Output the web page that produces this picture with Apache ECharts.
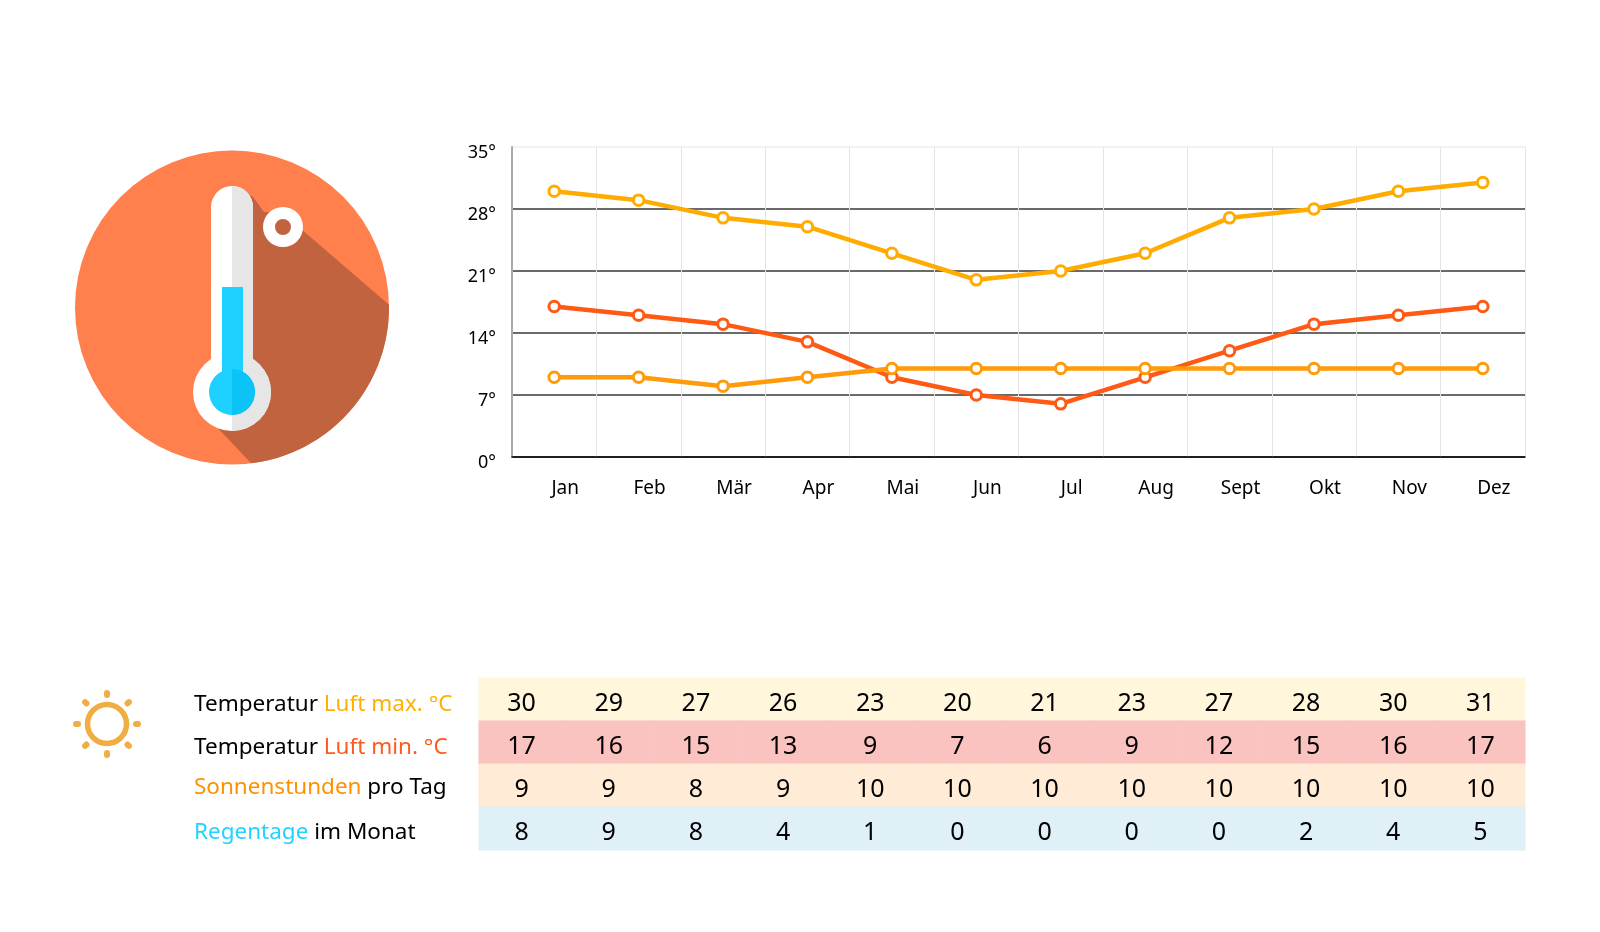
<!DOCTYPE html>
<html><head><meta charset="utf-8">
<style>html,body{margin:0;padding:0;background:#fff}#c{width:1600px;height:932px}</style>
<script src="https://cdn.jsdelivr.net/npm/echarts@6/dist/echarts.min.js"></script>
</head><body><div id="c"></div>
<script>
const months = ['Jan','Feb','Mär','Apr','Mai','Jun','Jul','Aug','Sept','Okt','Nov','Dez'];
const tempMax = [30,29,27,26,23,20,21,23,27,28,30,31];
const tempMin = [17,16,15,13,9,7,6,9,12,15,16,17];
const sunHours = [9,9,8,9,10,10,10,10,10,10,10,10];
const rainDays = [8,9,8,4,1,0,0,0,0,2,4,5];
const rowColors = ['#fff6dc','#fac3c0','#ffebd6','#dff0f6'];
const FONT = '"Noto Sans", sans-serif';

const tableRows = [tempMax,tempMin,sunHours,rainDays];
const tableData = [];
tableRows.forEach((r,y)=>r.forEach((v,x)=>tableData.push({value:[x,y,v],itemStyle:{color:rowColors[y],borderColor:rowColors[y],borderWidth:0.5}})));

/* ---- decorative icons ---- */
const cx=232, cy=307.5, R=157;
const shadow=[[232,186],[253,197],[264,212],[283,212],[300,228]];
for(let a=-1;a<=84;a+=2){const t=a*Math.PI/180;shadow.push([cx+R*Math.cos(t),cy+R*Math.sin(t)]);}
shadow.push([213,423],[232,392]);
const SUN='#f0ad44', sx=107, sy=724, H=Math.PI/2;
const graphics=[
 {type:'circle',shape:{cx,cy,r:R},style:{fill:'#ff7f4d'}},
 {type:'polygon',shape:{points:shadow},style:{fill:'#c26340'}},
 // thermometer body, white half
 {type:'rect',shape:{x:211,y:186,width:42,height:210,r:[21,21,0,0]},style:{fill:'#fff'}},
 {type:'circle',shape:{cx:232,cy:392,r:39},style:{fill:'#fff'}},
 // grey half
 {type:'sector',shape:{cx:232,cy:207,r:21,startAngle:-H,endAngle:0},style:{fill:'#e6e6e6'}},
 {type:'rect',shape:{x:232,y:207,width:21,height:185},style:{fill:'#e6e6e6'}},
 {type:'sector',shape:{cx:232,cy:392,r:39,startAngle:-H,endAngle:H},style:{fill:'#e6e6e6'}},
 // blue
 {type:'rect',shape:{x:222,y:287,width:21,height:90},style:{fill:'#1ed0ff'}},
 {type:'circle',shape:{cx:232,cy:392,r:23},style:{fill:'#1ed0ff'}},
 {type:'sector',shape:{cx:232,cy:392,r:23,startAngle:-H,endAngle:H},style:{fill:'#0cc3f5'}},
 // degree ring
 {type:'ring',shape:{cx:283,cy:227,r:20,r0:8},style:{fill:'#fff'}},
 // sun
 {type:'circle',shape:{cx:sx,cy:sy,r:19.5},style:{fill:'none',stroke:SUN,lineWidth:5.5}}
];
for(let i=0;i<8;i++){const t=i*Math.PI/4;graphics.push({type:'line',
  shape:{x1:sx+29*Math.cos(t),y1:sy+29*Math.sin(t),x2:sx+31*Math.cos(t),y2:sy+31*Math.sin(t)},
  style:{stroke:SUN,lineWidth:6,lineCap:'round'}});}

/* ---- row captions ---- */
const captions=[
 {t:'{k|Temperatur }{a|Luft max. °C}',y:705},
 {t:'{k|Temperatur }{b|Luft min. °C}',y:748},
 {t:'{c|Sonnenstunden }{k|pro Tag}',y:788},
 {t:'{d|Regentage }{k|im Monat}',y:833}
];
const F=22.5;
captions.forEach(c=>graphics.push({type:'text',x:194,y:c.y,style:{
  text:c.t,verticalAlign:'middle',font:F+'px '+FONT,
  rich:{k:{fill:'#000',fontSize:F,fontFamily:FONT},a:{fill:'#ffb000',fontSize:F,fontFamily:FONT},
        b:{fill:'#ff5a1e',fontSize:F,fontFamily:FONT},c:{fill:'#ff9000',fontSize:F,fontFamily:FONT},d:{fill:'#22d2ff',fontSize:F,fontFamily:FONT}}
}}));

const lineSeries=(name,data,color)=>({name,type:'line',data,xAxisIndex:0,yAxisIndex:0,z:5,
  symbol:'circle',symbolSize:10.5,showSymbol:true,animation:false,
  lineStyle:{color,width:4.5},itemStyle:{color:'#fff',borderColor:color,borderWidth:3}});

const chart=echarts.init(document.getElementById('c'),null,{renderer:'canvas'});
chart.setOption({
 animation:false,
 backgroundColor:'#fff',
 textStyle:{fontFamily:FONT},
 grid:[
  {left:512,top:147,width:1013,height:310},
  {left:479,top:678,width:1046,height:172}
 ],
 xAxis:[
  {type:'category',gridIndex:0,data:months,boundaryGap:true,
   axisTick:{show:false},axisLine:{lineStyle:{color:'#111',width:1.5}},
   axisLabel:{interval:0,color:'#000',fontSize:19,fontFamily:FONT,margin:22,padding:[0,0,0,22]},
   splitLine:{show:true,interval:0,lineStyle:{color:'#e4e4e4',width:1}}},
  {type:'category',gridIndex:1,data:months,show:false}
 ],
 yAxis:[
  {type:'value',gridIndex:0,min:0,max:35,interval:7,
   axisLine:{show:true,lineStyle:{color:'#aaa',width:2}},axisTick:{show:false},
   axisLabel:{color:'#000',fontSize:18,fontFamily:FONT,margin:16,verticalAlign:'top',lineHeight:11,formatter:v=>v+'°'},
   splitLine:{show:true,lineStyle:{color:['#111','#383838','#383838','#383838','#383838','#eee'],width:1.5}}},
  {type:'category',gridIndex:1,inverse:true,data:[0,1,2,3],show:false}
 ],
 series:[
  lineSeries('Temperatur Luft max.',tempMax,'#ffab00'),
  lineSeries('Temperatur Luft min.',tempMin,'#ff5a14'),
  lineSeries('Sonnenstunden',sunHours,'#ff9a0a'),
  {type:'heatmap',xAxisIndex:1,yAxisIndex:1,data:tableData,animation:false,
   label:{show:true,color:'#000',fontSize:25,fontFamily:FONT,offset:[-1,4],formatter:p=>String(p.value[2])}}
 ],
 graphic:{elements:graphics}
});
</script></body></html>
